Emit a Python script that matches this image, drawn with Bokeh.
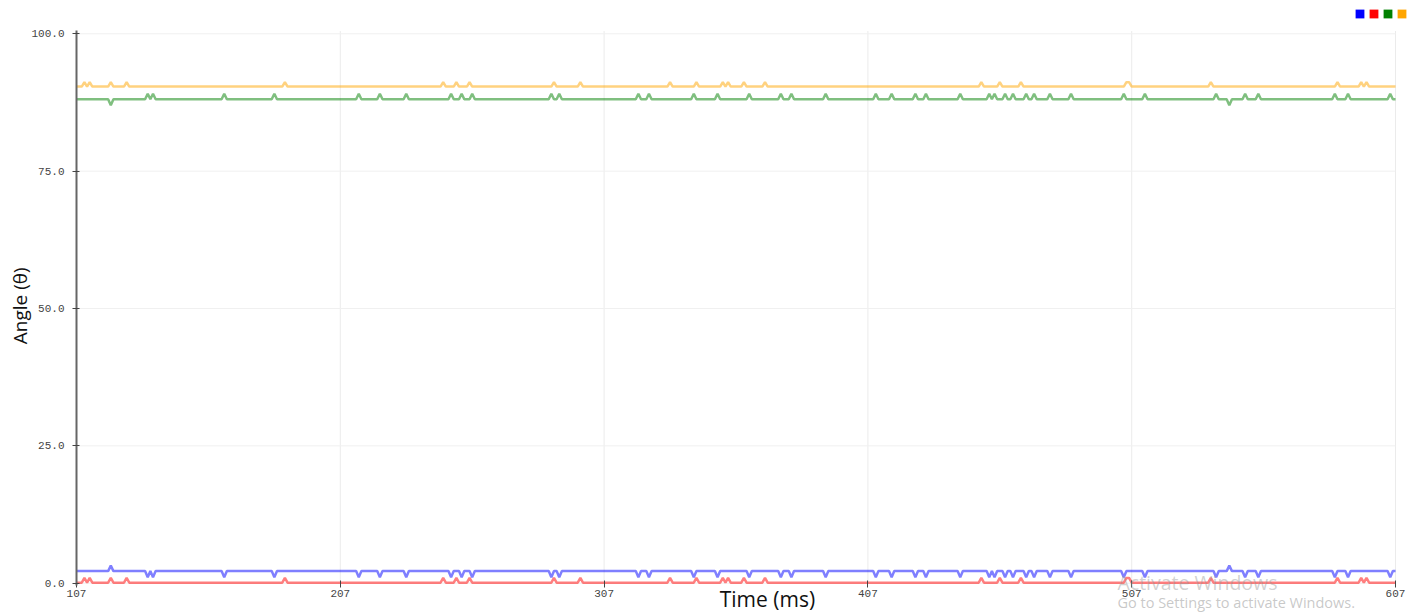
from bokeh.plotting import figure
from bokeh.models import (Range1d, FixedTicker, NumeralTickFormatter, Label, Legend,
                          LegendItem, LinearAxis, ColumnDataSource)
from bokeh.embed import file_html
from bokeh.resources import INLINE

# ---------------- data ----------------
t_start = 107
t_end = 607
x_ticks = [107, 207, 307, 407, 507, 607]
y_ticks = [0, 25, 50, 75, 100]
y_min = 0
y_max = 100

series_names = ["Blue", "Red", "Green", "Orange"]
series_colors = ["#0000ff", "#ff0000", "#008000", "#ffa500"]

# orange series: baseline and upward blips
orange_base = 90.4
orange_peak = 91.2
orange_up_times = [110, 112, 120, 126, 186, 246, 251, 256, 288, 298, 332, 342,
                   352, 354, 360, 368, 450, 457, 465, 505, 506, 537, 585, 594, 596]

# red series: baseline and upward blips
red_base = 0.1
red_peak = 0.95
red_up_times = [110, 112, 120, 126, 186, 246, 251, 256, 288, 298, 332, 342,
                352, 354, 360, 368, 450, 457, 465, 505, 506, 537, 585, 594, 596]

# green series: baseline, upward blips and downward blips
green_base = 88.1
green_peak = 89.1
green_dip = 87.0
green_up_times = [134, 136, 163, 182, 214, 222, 232, 249, 253, 257, 287, 290,
                  320, 324, 341, 350, 362, 374, 378, 391, 410, 416, 425, 429,
                  442, 453, 455, 459, 462, 467, 470, 476, 484, 504, 512, 539,
                  550, 555, 584, 589, 605]
green_down_times = [120, 544]

# blue series: baseline, downward dips and upward blips
blue_base = 2.2
blue_dip = 1.1
blue_peak = 3.2
blue_down_times = [134, 136, 163, 182, 214, 222, 232, 249, 253, 257, 287, 290,
                   320, 324, 341, 350, 362, 374, 378, 391, 410, 416, 425, 429,
                   442, 453, 455, 459, 462, 467, 470, 476, 484, 504, 512, 539,
                   550, 555, 584, 589, 605]
blue_up_times = [120, 544]


def build(base, events):
    """Line vertices: baseline with single-sample excursions at the listed times."""
    pts = {t_start: base, t_end: base}
    for t, v in events:
        for n in (t - 1, t + 1):
            if t_start <= n <= t_end:
                pts.setdefault(n, base)
    for t, v in events:
        pts[t] = v
    xs = sorted(pts)
    return xs, [pts[x] for x in xs]


blue_x, blue_y = build(blue_base, [(t, blue_dip) for t in blue_down_times] +
                       [(t, blue_peak) for t in blue_up_times])
red_x, red_y = build(red_base, [(t, red_peak) for t in red_up_times])
green_x, green_y = build(green_base, [(t, green_peak) for t in green_up_times] +
                         [(t, green_dip) for t in green_down_times])
orange_x, orange_y = build(orange_base, [(t, orange_peak) for t in orange_up_times])

# ---------------- figure ----------------
W, H = 1424, 616
p = figure(width=W, height=H,
           x_range=Range1d(78.19, 617.99), y_range=Range1d(-6.06, 106.06),
           x_axis_location=None, y_axis_location=None,
           output_backend="svg", toolbar_location=None, min_border=0,
           background_fill_color="white", border_fill_color="white")
p.outline_line_color = None
p.title.visible = False
p.grid.visible = False

# grid lines at the tick positions
p.segment(x0=x_ticks, y0=[y_min] * len(x_ticks), x1=x_ticks, y1=[y_max + 0.5] * len(x_ticks),
          line_color="#ebebeb", line_width=1)
p.segment(x0=[t_start] * len(y_ticks), y0=y_ticks, x1=[t_end] * len(y_ticks), y1=y_ticks,
          line_color="#f0f0f0", line_width=1)

line_data = [(blue_x, blue_y), (red_x, red_y), (green_x, green_y), (orange_x, orange_y)]
for (xs, ys), c in zip(line_data, series_colors):
    p.line(xs, ys, line_color=c, line_width=2.5, line_alpha=0.5)

# axes fixed at the data origin
xaxis = LinearAxis(fixed_location=y_min, bounds=(t_start, t_end),
                   ticker=FixedTicker(ticks=x_ticks))
yaxis = LinearAxis(fixed_location=t_start, bounds=(y_min - 0.5, y_max + 0.6),
                   ticker=FixedTicker(ticks=y_ticks),
                   formatter=NumeralTickFormatter(format="0.0"))
for ax in (xaxis, yaxis):
    ax.major_label_text_font = "Liberation Mono"
    ax.major_label_text_font_size = "11px"
    ax.major_label_text_color = "#444444"
    ax.major_tick_line_color = "#444444"
    ax.major_tick_in = 3
    ax.major_tick_out = 4
    ax.minor_tick_line_color = None
xaxis.axis_line_color = None
xaxis.major_label_standoff = 3
yaxis.axis_line_color = "#666666"
yaxis.axis_line_width = 2
yaxis.major_label_standoff = 8
p.add_layout(xaxis, "below")
p.add_layout(yaxis, "left")

# legend: coloured squares only (zero-size swatch renderers)
items = []
for name, c in zip(series_names, series_colors):
    swatch = ColumnDataSource(dict(left=[t_start], right=[t_start], top=[y_min], bottom=[y_min]))
    r = p.quad(left="left", right="right", top="top", bottom="bottom", source=swatch,
               fill_color=c, line_color=None)
    items.append(LegendItem(label=" ", renderers=[r]))
legend = Legend(items=items, orientation="horizontal", location=(1354, 597),
                glyph_width=11, glyph_height=11, label_width=0, label_height=0,
                label_standoff=0, label_text_font_size="1px", spacing=3,
                padding=0, margin=0, border_line_color=None,
                background_fill_alpha=0)
p.add_layout(legend)

# axis titles
p.add_layout(Label(x=368.9, y=-2.8, text="Time (ms)", text_align="center",
                   text_baseline="middle", text_font="Open Sans",
                   text_font_size="21px", text_color="#111111"))
p.add_layout(Label(x=85.6, y=50.5, text="Angle (θ)", text_align="center",
                   text_baseline="middle", angle=1.5707963, text_font="Open Sans",
                   text_font_size="19px", text_color="#111111"))

# screenshot watermark
p.add_layout(Label(x=501.6, y=0.2, text="Activate Windows", text_align="left",
                   text_baseline="middle", text_font="Open Sans",
                   text_font_size="19.5px", text_color="#9a9a9a", text_alpha=0.45))
p.add_layout(Label(x=501.6, y=-3.5, text="Go to Settings to activate Windows.",
                   text_align="left", text_baseline="middle", text_font="Open Sans",
                   text_font_size="14.5px", text_color="#9a9a9a", text_alpha=0.55))

open("out.html", "w").write(file_html(p, INLINE))
